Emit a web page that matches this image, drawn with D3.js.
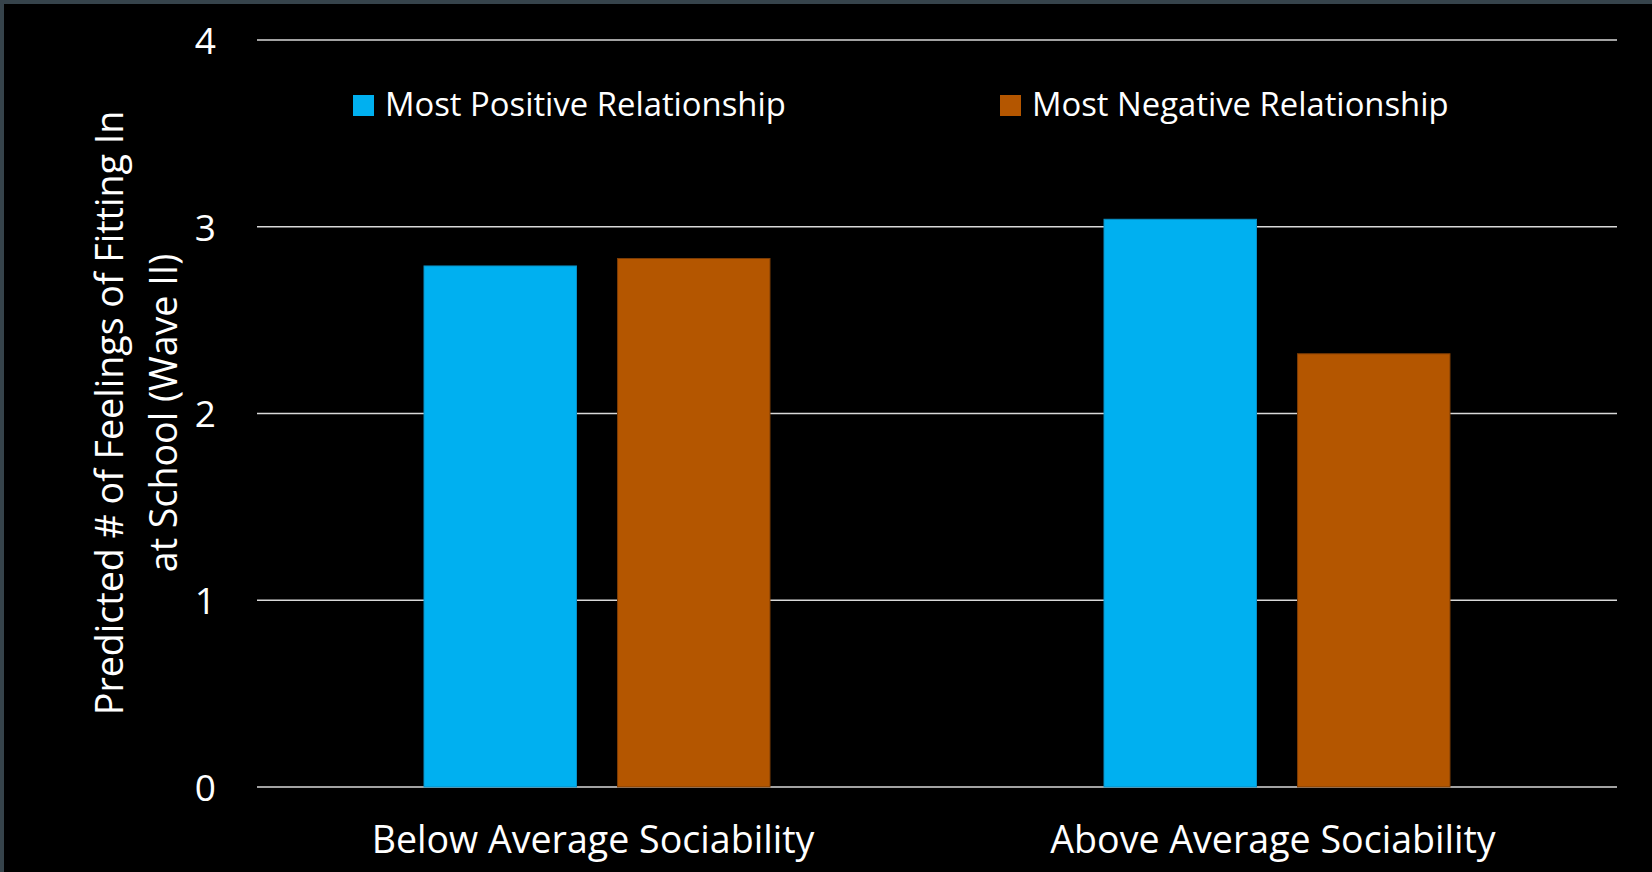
<!DOCTYPE html>
<html>
<head>
<meta charset="utf-8">
<script src="https://cdn.jsdelivr.net/npm/d3@7"></script>
<style>
  html, body { margin: 0; padding: 0; background: #000; overflow: hidden; }
  svg { display: block; }
  text { font-family: "Open Sans", Lato, sans-serif; fill: #ffffff; }
</style>
</head>
<body>
<svg id="chart" width="1652" height="872"></svg>
<script>
const categories = ["Below Average Sociability", "Above Average Sociability"];
const seriesNames = ["Most Positive Relationship", "Most Negative Relationship"];
const positiveValues = [2.79, 3.04];
const negativeValues = [2.83, 2.32];
const yTicks = [0, 1, 2, 3, 4];
const yTitleLines = ["Predicted # of Feelings of Fitting In", "at School (Wave II)"];
const colors = ["#00b0f0", "#b45600"];
const strokes = ["#0a8fc4", "#7c3c05"];

const W = 1652, H = 872;
const svg = d3.select("#chart");
svg.append("rect").attr("x", 0).attr("y", 0).attr("width", W).attr("height", H).attr("fill", "#000");
// slide frame: top and left edges
svg.append("rect").attr("x", 0).attr("y", 0).attr("width", W).attr("height", 4).attr("fill", "#36434b");
svg.append("rect").attr("x", 0).attr("y", 0).attr("width", 4).attr("height", H).attr("fill", "#36434b");

const plotLeft = 257, plotRight = 1617, plotTop = 40, plotBottom = 787;
const y = d3.scaleLinear().domain([0, 4]).range([plotBottom, plotTop]);
const x0 = d3.scaleBand().domain(categories).range([plotLeft, plotRight]).padding(0);
const x1 = d3.scaleBand().domain(seriesNames).range([0, x0.bandwidth()])
  .paddingInner(0.212).paddingOuter(0.863);

// gridlines
const grid = svg.append("g");
grid.selectAll("line").data(yTicks).join("line")
  .attr("x1", plotLeft).attr("x2", plotRight)
  .attr("y1", d => y(d)).attr("y2", d => y(d))
  .attr("stroke", "#d9d9d9").attr("stroke-width", 1.6);

// y axis labels
const yAxis = d3.axisLeft(y).tickValues(yTicks).tickSize(0).tickPadding(0).tickFormat(d3.format("d"));
const yg = svg.append("g").attr("transform", `translate(216,0)`).call(yAxis);
yg.select(".domain").remove();
yg.selectAll("text").style("font-size", "37px").style("font-family", "'Open Sans'").attr("fill", "#fff").attr("dy", "0.36em");

// bars
const rows = categories.map((c, i) => ({ cat: c, vals: [positiveValues[i], negativeValues[i]] }));
const groups = svg.append("g").selectAll("g").data(rows).join("g")
  .attr("transform", d => `translate(${x0(d.cat)},0)`);
groups.selectAll("rect").data(d => d.vals.map((v, j) => ({ s: seriesNames[j], v, j })))
  .join("rect")
  .attr("x", d => x1(d.s))
  .attr("width", x1.bandwidth())
  .attr("y", d => y(d.v))
  .attr("height", d => y(0) - y(d.v))
  .attr("fill", d => colors[d.j])
  .attr("stroke", d => strokes[d.j])
  .attr("stroke-width", 1);

// category labels
const xAxis = d3.axisBottom(x0).tickSize(0).tickPadding(0);
const xg = svg.append("g").attr("transform", `translate(-4,853)`).call(xAxis);
xg.select(".domain").remove();
xg.selectAll("text").style("font-size", "37.6px").style("font-family", "'Open Sans'").attr("fill", "#fff").attr("dy", 0);

// legend
const legendX = [353, 1000];
const leg = svg.append("g").selectAll("g").data(seriesNames).join("g")
  .attr("transform", (d, i) => `translate(${legendX[i]},95)`);
leg.append("rect").attr("width", 21).attr("height", 21).attr("fill", (d, i) => colors[i]);
leg.append("text").attr("x", 32).attr("y", 21).style("font-size", "32.8px").text(d => d);

// y title
const yTitleX = [123, 177];
svg.append("g").selectAll("text").data(yTitleLines).join("text")
  .attr("transform", (d, i) => `translate(${yTitleX[i]},413) rotate(-90)`)
  .attr("text-anchor", "middle")
  .style("font-size", "37.6px")
  .text(d => d);
</script>
</body>
</html>
